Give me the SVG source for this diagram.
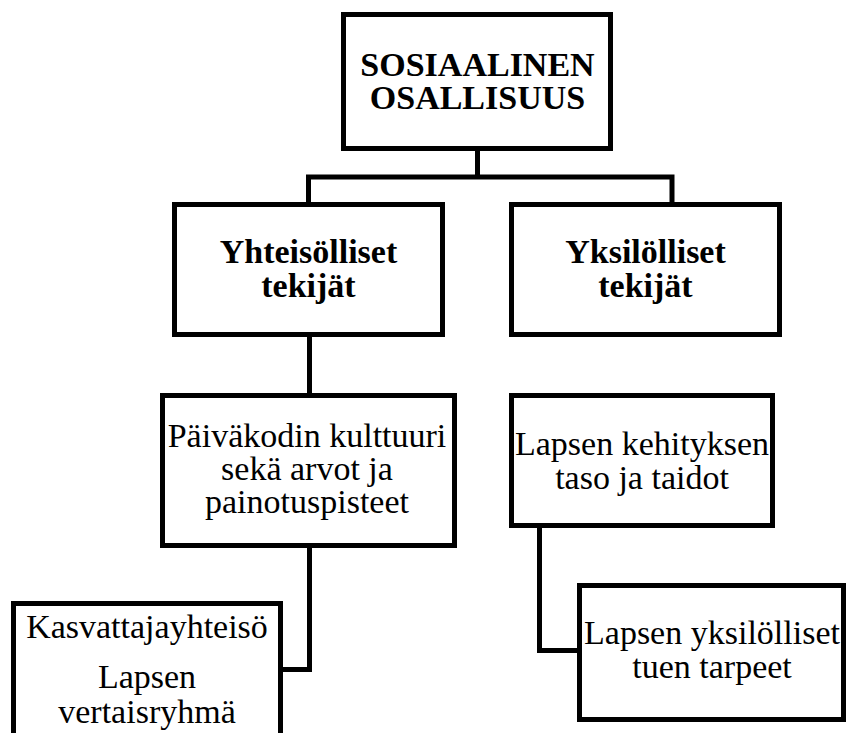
<svg xmlns="http://www.w3.org/2000/svg" width="846" height="733" viewBox="0 0 846 733">
<style>
.box{fill:#fff;stroke:#000;stroke-width:5}
.c{fill:none;stroke:#000;stroke-width:5}
</style>
<rect width="846" height="733" fill="#fff"/>
<g id="connectors">
<path class="c" d="M477.5 151 V177"/>
<path class="c" d="M308.5 204 V177 H672 V204"/>
<path class="c" d="M309.5 337 V394"/>
<path class="c" d="M309.5 547 V669.5 H282"/>
<path class="c" d="M539.5 527 V650.5 H578"/>
</g>
<g font-family="Tinos, 'Liberation Serif', 'Nimbus Roman', 'Times New Roman', Times, 'DejaVu Serif', serif" font-size="34" text-anchor="middle" fill="#000">
<g id="sosiaalinen">
<rect class="box" x="343.5" y="14.5" width="267" height="134"/>
<text font-weight="bold" x="477.5" y="76">SOSIAALINEN</text>
<text font-weight="bold" x="477.5" y="109">OSALLISUUS</text>
</g>
<g id="yhteisolliset">
<rect class="box" x="174.5" y="204.5" width="268" height="130"/>
<text font-weight="bold" x="308.5" y="263">Yhteisölliset</text>
<text font-weight="bold" x="308.5" y="297">tekijät</text>
</g>
<g id="yksilolliset">
<rect class="box" x="511.5" y="204.5" width="268" height="130"/>
<text font-weight="bold" x="645.5" y="263">Yksilölliset</text>
<text font-weight="bold" x="645.5" y="297">tekijät</text>
</g>
<g id="paivakodin">
<rect class="box" x="162.5" y="395.5" width="292" height="150"/>
<text x="307" y="447">Päiväkodin kulttuuri</text>
<text x="307" y="480">sekä arvot ja</text>
<text x="307" y="513">painotuspisteet</text>
</g>
<g id="kehitys">
<rect class="box" x="511.5" y="395.5" width="261" height="130"/>
<text x="642" y="455">Lapsen kehityksen</text>
<text x="642" y="489">taso ja taidot</text>
</g>
<g id="kasvattaja">
<rect class="box" x="13.5" y="603.5" width="267" height="200"/>
<text x="147" y="638">Kasvattajayhteisö</text>
<text x="147" y="688">Lapsen</text>
<text x="147" y="723">vertaisryhmä</text>
</g>
<g id="tuki">
<rect class="box" x="579.5" y="585.5" width="264" height="134"/>
<text x="712" y="644">Lapsen yksilölliset</text>
<text x="712" y="678">tuen tarpeet</text>
</g>
</g>
</svg>
